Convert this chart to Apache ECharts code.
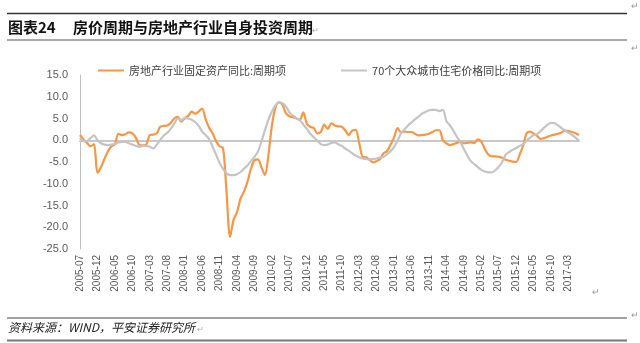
<!DOCTYPE html>
<html>
<head>
<meta charset="utf-8">
<script src="https://cdn.jsdelivr.net/npm/echarts@6/dist/echarts.min.js"></script>
<style>
html,body{margin:0;padding:0;background:#fff;}
#c{width:640px;height:343px;}
</style>
</head>
<body>
<div id="c"></div>
<script>
// categories: monthly, 2005-07 .. 2017-06
const startYear = 2005, startMonth = 7, monthCount = 144;
const categories = [];
for (let k = 0; k < monthCount; k++) {
  const m = startMonth - 1 + k;
  const y = startYear + Math.floor(m / 12);
  const mm = (m % 12) + 1;
  categories.push(y + '-' + (mm < 10 ? '0' + mm : mm));
}

const seriesNames = ['房地产行业固定资产同比:周期项', '70个大众城市住宅价格同比:周期项'];

// 房地产行业固定资产同比:周期项
const investCycle = [
  1.2, 0.2, -0.6, -1.4, -0.9, -7.5, -6.2, -4.3, -2.6, -1.4,
  -0.9, 1.5, 1.2, 1.4, 1.8, 1.6, 0.6, -1.1, -1.2, -1.0,
  1.2, 1.3, 1.6, 3.1, 3.3, 3.4, 4.0, 5.0, 5.4, 4.3,
  5.0, 5.6, 6.6, 6.1, 6.6, 7.3, 4.8, 2.9, 1.6, -0.2,
  -1.4, -1.8, -12.0, -22.2, -18.3, -16.5, -13.4, -11.8, -9.5, -6.5,
  -4.6, -4.4, -6.2, -8.0, -3.4, 3.4, 7.5, 8.7, 8.2, 6.2,
  5.5, 5.3, 5.0, 4.7, 6.4, 3.8, 3.1, 2.8, 1.6, 1.9,
  3.6, 2.6, 3.9, 3.4, 3.2, 3.1, 2.3, 1.2, 2.2, 2.4,
  -0.6, -3.8, -3.9, -4.5, -5.1, -4.8, -4.3, -3.0, -2.5, -1.0,
  0.6, 2.8, 1.8, 2.0, 1.9, 1.9, 1.5, 1.1, 1.2, 1.3,
  1.5, 1.9, 2.3, 2.3, 0.0, -0.7, -1.1, -0.9, -0.6, -0.4,
  -0.7, -0.6, -0.5, -0.6, 0.2, -0.3, -2.0, -3.3, -3.7, -3.7,
  -3.8, -4.0, -4.5, -4.7, -4.9, -5.0, -3.3, -1.2, 1.6, 2.0,
  1.5, 1.0, 0.3, 0.5, 0.8, 1.1, 1.3, 1.5, 1.8, 2.2,
  2.1, 1.9, 1.6, 1.2
];

// 70个大众城市住宅价格同比:周期项
const priceCycle = [
  0.6, -0.2, -0.2, 0.5, 1.1, 0.0, -0.7, -1.0, -1.1, -1.0,
  -0.8, -0.5, -0.4, -0.4, -0.7, -1.0, -1.3, -1.5, -1.3, -1.3,
  -1.5, -1.9, -1.0, 0.1, 1.1, 1.7, 2.6, 3.8, 5.0, 4.6,
  5.1, 5.0, 4.7, 4.2, 3.3, 2.0, 1.2, 0.3, -1.5, -3.3,
  -5.2, -6.6, -7.6, -8.0, -8.0, -7.8, -7.3, -6.5, -5.8, -4.8,
  -3.8, -2.6, -0.3, 2.3, 4.8, 6.6, 8.0, 8.7, 8.5, 7.8,
  6.4, 5.7, 5.1, 4.6, 3.6, 2.6, 1.5, 0.7, -0.1, -0.9,
  -1.1, -1.0, -0.6, -0.5, -0.9, -1.3, -1.9, -2.4, -3.0, -3.5,
  -3.9, -4.2, -4.3, -4.4, -4.3, -4.2, -4.0, -3.8, -3.2, -2.5,
  -1.6, -0.1, 1.6, 2.5, 3.4, 4.1, 4.8, 5.4, 6.1, 6.5,
  6.9, 7.0, 7.0, 6.7, 7.0, 4.4, 3.4, 2.2, 0.8, -0.4,
  -2.0, -3.5, -4.8, -5.5, -6.2, -6.8, -7.2, -7.4, -7.4, -6.9,
  -6.1, -5.0, -3.3, -2.7, -2.2, -1.8, -1.3, -0.9, -0.1, 0.6,
  1.2, 1.4, 2.1, 2.9, 3.6, 4.0, 3.9, 3.4, 2.8, 2.2,
  1.7, 1.2, 0.6, -0.1
];

const yMin = -25, yMax = 15, yStep = 5;
const titleLabel = '图表24';
const titleText = '房价周期与房地产行业自身投资周期';
const sourceText = '资料来源：WIND，平安证券研究所';

const chart = echarts.init(document.getElementById('c'), null, {renderer: 'canvas'});
const cjk = '"Noto Sans CJK SC", sans-serif';
const latin = '"Liberation Sans", Arial, sans-serif';

chart.setOption({
  animation: false,
  backgroundColor: '#ffffff',
  grid: {left: 80, right: 61, top: 75, bottom: 94, containLabel: false},
  legend: {
    left: 93, top: 60,
    icon: 'rect', itemWidth: 26, itemHeight: 2, itemGap: 55,
    textStyle: {fontFamily: cjk, fontSize: 11, color: '#404040'},
    data: seriesNames
  },
  xAxis: [{
    type: 'category', data: categories, boundaryGap: false,
    axisLine: {show: false, onZero: false},
    axisTick: {show: false},
    axisLabel: {interval: 4, rotate: 90, margin: 6, fontFamily: latin, fontSize: 10, color: '#595959'},
    splitLine: {show: false}
  }, {
    type: 'category', data: categories, boundaryGap: false, position: 'bottom',
    axisLine: {show: true, onZero: true, lineStyle: {color: '#C8C8C8', width: 2}},
    axisTick: {show: false}, axisLabel: {show: false}, splitLine: {show: false}
  }],
  yAxis: {
    type: 'value', min: yMin, max: yMax, interval: yStep,
    axisLine: {show: true, lineStyle: {color: '#BFBFBF', width: 1}},
    axisTick: {show: false},
    splitLine: {show: false},
    axisLabel: {margin: 12, fontFamily: latin, fontSize: 11, color: '#595959',
      formatter: v => v.toFixed(1)}
  },
  series: [{
    name: seriesNames[0], type: 'line', data: investCycle, xAxisIndex: 0,
    showSymbol: false, smooth: 0.3,
    lineStyle: {color: '#F79646', width: 2.2}, itemStyle: {color: '#F79646'}
  }, {
    name: seriesNames[1], type: 'line', data: priceCycle, xAxisIndex: 0,
    showSymbol: false, smooth: 0.3,
    lineStyle: {color: '#C4C4C4', width: 2.2}, itemStyle: {color: '#C4C4C4'}
  }],
  graphic: [
    {type: 'line', shape: {x1: 7, y1: 13.5, x2: 627, y2: 13.5}, style: {stroke: '#333', lineWidth: 1.5}},
    {type: 'text', left: 8, top: 20, style: {text: titleLabel, font: 'bold 15px ' + cjk, fill: '#111'}},
    {type: 'text', left: 73, top: 20, style: {text: titleText, font: 'bold 15px ' + cjk, fill: '#111'}},
    {type: 'text', left: 312, top: 27, style: {text: '↵', font: '8px ' + latin, fill: '#aaa'}},
    {type: 'line', shape: {x1: 7, y1: 40, x2: 627, y2: 40}, style: {stroke: '#555', lineWidth: 1}},
    {type: 'text', left: 631, top: 2, style: {text: '↵', font: '9px ' + latin, fill: '#999'}},
    {type: 'text', left: 631, top: 44, style: {text: '↵', font: '9px ' + latin, fill: '#999'}},
    {type: 'text', left: 592, top: 288, style: {text: '↵', font: '9px ' + latin, fill: '#999'}},
    {type: 'line', shape: {x1: 7, y1: 318, x2: 627, y2: 318}, style: {stroke: '#444', lineWidth: 1}},
    {type: 'text', left: 631, top: 311, style: {text: '↵', font: '9px ' + latin, fill: '#999'}},
    {type: 'text', left: 8, top: 321, style: {text: sourceText, font: 'italic 12px ' + cjk, fill: '#222'}},
    {type: 'text', left: 197, top: 326, style: {text: '↵', font: '8px ' + latin, fill: '#aaa'}},
    {type: 'line', shape: {x1: 7, y1: 340.5, x2: 627, y2: 340.5}, style: {stroke: '#777', lineWidth: 2}}
  ]
});
</script>
</body>
</html>
